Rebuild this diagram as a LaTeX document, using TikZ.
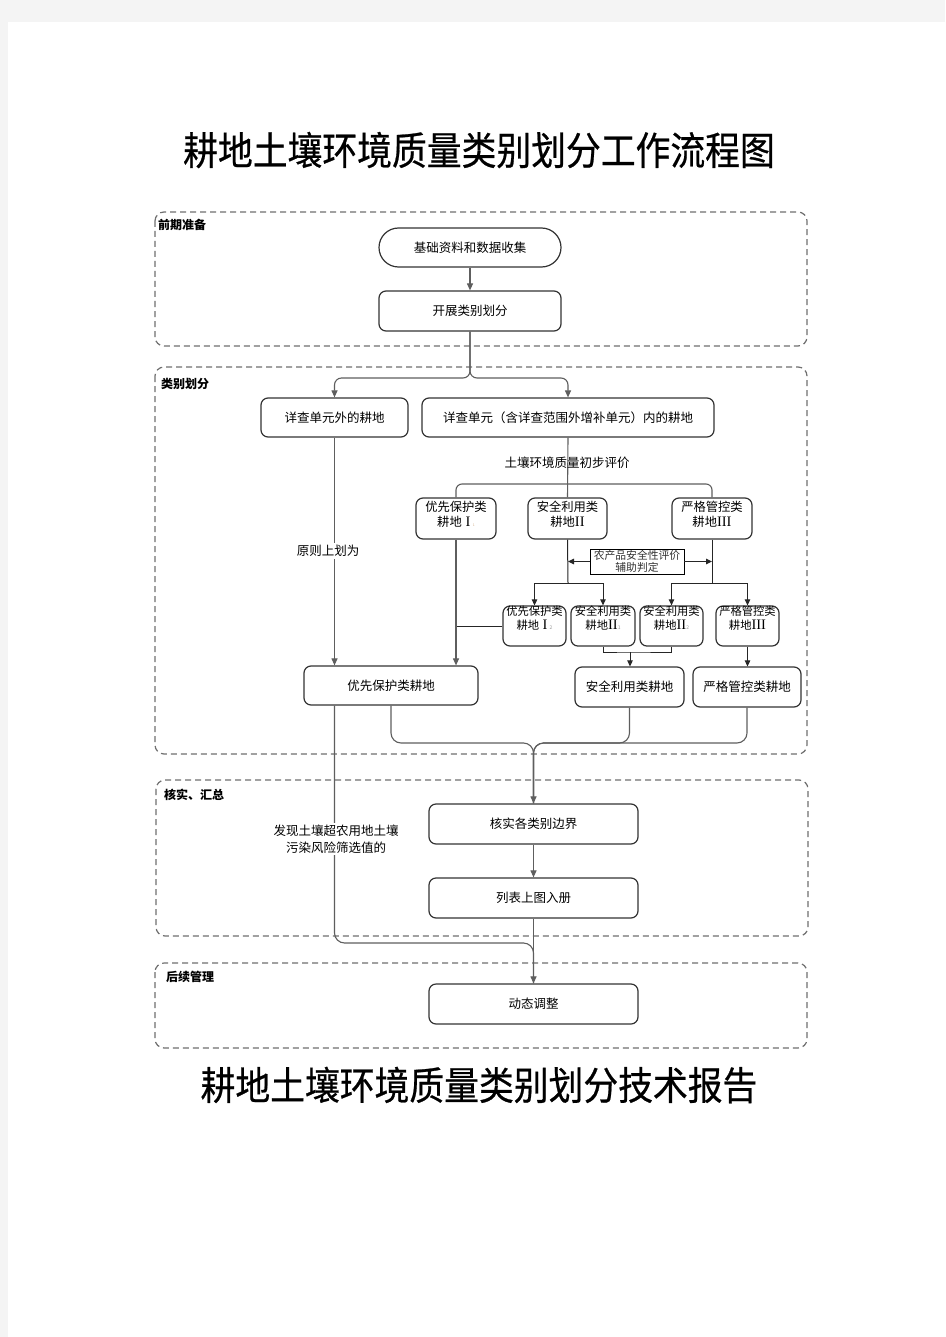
\documentclass[tikz,border=0pt]{standalone}
\usepackage{fontspec}
\newfontfamily\cjk{Noto Sans CJK SC}
\newfontfamily\cjktitle[FakeBold=0.6]{Noto Sans CJK SC}
\newfontfamily\romfont{Liberation Serif}
\usetikzlibrary{arrows.meta}
\definecolor{pagegray}{HTML}{F4F4F4}
\definecolor{linegray}{HTML}{5E5E5E}
\definecolor{boxline}{HTML}{333333}
\definecolor{dashgray}{HTML}{707070}
\definecolor{notegray}{HTML}{9A9A9A}
\definecolor{notetan}{HTML}{D4B08C}
\newcommand\padd[1]{\rule[-#1pt]{0pt}{#1pt}}
\newcommand\smallnote[2]{{\fontsize{#1}{#1}\selectfont\textcolor{notegray}{#2}}}
\newcommand\romsize{\fontsize{14.5}{14.5}\selectfont}
\newcommand\rI{\hspace{0.3em}{\romfont\romsize I}\hspace{0.2em}}
\newcommand\rII{{\romfont\romsize II}}
\newcommand\rIII{{\romfont\romsize III}}
\begin{document}
\begin{tikzpicture}[x=1pt,y=-1pt,
  every node/.style={font=\cjk},
  box/.style={draw=boxline, line width=1.2pt, rounded corners=7pt, inner sep=0pt, align=center,
    font=\cjk\fontsize{12.5}{16}\selectfont},
  sbox/.style={box, font=\cjk\fontsize{12.3}{15.5}\selectfont},
  tbox/.style={box, font=\cjk\fontsize{11.3}{13.5}\selectfont},
  notebox/.style={draw=black, line width=0.9pt, inner sep=0pt, align=center, text=black!80,
    font=\cjk\fontsize{10.8}{12}\selectfont},
  frame/.style={draw=dashgray, line width=1.2pt, dash pattern=on 6pt off 4pt, rounded corners=9pt},
  phase/.style={anchor=west, inner sep=0pt, font=\cjk\bfseries\fontsize{12}{12}\selectfont},
  lbl/.style={inner sep=2pt, align=center, font=\cjk\fontsize{12.5}{17}\selectfont},
  title/.style={inner sep=0pt, font=\cjktitle\fontsize{34.8}{40}\selectfont},
  conn/.style={draw=linegray, line width=1.1pt},
  arr/.style={conn, -{Triangle[length=7pt,width=6pt]}},
  dark/.style={draw=black!85, line width=1pt},
  darr/.style={dark, -{Triangle[length=6pt,width=5.5pt]}}
]
\fill[pagegray] (0,0) rectangle (945,1337);
\fill[white] (8,22) rectangle (945,1337);
\useasboundingbox (0,0) rectangle (945,1337);

% titles
\node[title] (t1) at (479,150) {\scalebox{1}[1.12]{耕地土壤环境质量类别划分工作流程图}};
\node[title] (t2) at (479,1085) {\scalebox{1}[1.12]{耕地土壤环境质量类别划分技术报告}};

% phase frames
\draw[frame] (155,212) rectangle (807,346);
\draw[frame] (155,367) rectangle (807,754);
\draw[frame] (156,780) rectangle (808,936);
\draw[frame] (155,963) rectangle (807,1048);
\node[phase] (p1) at (158,225) {前期准备};
\node[phase] (p2) at (161,384) {类别划分};
\node[phase] (p3) at (164,795) {核实、汇总};
\node[phase] (p4) at (166,977) {后续管理};

% nodes
\node[box, minimum width=182pt, minimum height=39pt, rounded corners=19.5pt] (n1) at (470,247.5) {基础资料和数据收集};
\node[box, minimum width=182pt, minimum height=40pt] (n2) at (470,311) {开展类别划分};
\node[box, minimum width=147pt, minimum height=39pt] (n3) at (334.5,417.5) {详查单元外的耕地};
\node[box, minimum width=292pt, minimum height=39pt] (n4) at (568,417.5) {详查单元（含详查范围外增补单元）内的耕地};
\node[sbox, minimum width=80pt, minimum height=41pt] (n5) at (456,518.5) {优先保护类\\耕地\rI{\fontsize{3.5}{3.5}\selectfont\textcolor{notetan}{1}}\padd{9}};
\node[sbox, minimum width=79pt, minimum height=41pt] (n6) at (567.5,518.5) {安全利用类\\耕地\rII\padd{9}};
\node[sbox, minimum width=80pt, minimum height=41pt] (n7) at (712,518.5) {严格管控类\\耕地\rIII\padd{9}};
\node[notebox, minimum width=94pt, minimum height=25pt] (n8) at (637,561.5) {农产品安全性评价\\辅助判定};
\node[tbox, minimum width=63pt, minimum height=40pt] (n9) at (534.5,626) {优先保护类\\耕地\rI\smallnote{5}{2}\padd{17}};
\node[tbox, minimum width=64pt, minimum height=40pt] (n10) at (603,626) {安全利用类\\耕地\rII\smallnote{5}{1}\padd{17}};
\node[tbox, minimum width=63pt, minimum height=40pt] (n11) at (671.5,626) {安全利用类\\耕地\rII\smallnote{5}{2}\padd{17}};
\node[tbox, minimum width=63pt, minimum height=40pt] (n12) at (747.5,626) {严格管控类\\耕地\rIII\padd{17}};
\node[box, minimum width=174pt, minimum height=39pt] (n13) at (391,685.5) {优先保护类耕地};
\node[box, minimum width=109pt, minimum height=40pt] (n14) at (629.5,687) {安全利用类耕地};
\node[box, minimum width=108pt, minimum height=40pt] (n15) at (747,687) {严格管控类耕地};
\node[box, minimum width=209pt, minimum height=40pt] (n16) at (533.5,824) {核实各类别边界};
\node[box, minimum width=209pt, minimum height=40pt] (n17) at (533.5,898) {列表上图入册};
\node[box, minimum width=209pt, minimum height=40pt] (n18) at (533.5,1004) {动态调整};

% coordinates
\coordinate (s1) at (568,583);
\coordinate (s2) at (712,583);
\coordinate (s3) at (630,652);
\coordinate (m) at (533.5,743);
\coordinate (b) at (334.5,943);

% connectors - upper part
\draw[arr] (n1.south) -- (n2.north);
\draw[arr, rounded corners=7pt] (n2.south) -- (470,378) -| (n3.north);
\draw[arr, rounded corners=7pt] (n2.south) -- (470,378) -| (n4.north);
\draw[conn] (n4.south) -- (n6.north);
\draw[conn, rounded corners=6pt] (n5.north) |- (600,484) -| (n7.north);
\node[lbl] (l0) at (567,463) {土壤环境质量初步评价};

% auxiliary judgement
\draw[dark] (n6.south) -- (s1);
\draw[dark] (n7.south) -- (s2);
\draw[darr] (n8.west) -- (n8.west -| s1);
\draw[darr] (n8.east) -- (n8.east -| s2);
\draw[darr] (s1) -| (n9.north);
\draw[darr] (s1) -| (n10.north);
\draw[darr] (s2) -| (n11.north);
\draw[darr] (s2) -| (n12.north);
\draw[dark] (n9.west) -- (n9.west -| n5.south);
\draw[dark] (n10.south) |- (s3) -| (n11.south);
\draw[darr] (s3) -- (s3 |- n14.north);
\draw[darr] (n12.south) -- (n12.south |- n15.north);

% into final classes
\draw[arr] (n5.south) -- (n5.south |- n13.north);
\draw[arr] (n3.south) -- (n3.south |- n13.north);
\node[lbl, fill=white] (l1) at (328,551) {原则上划为};

% merge to verification
\draw[conn, rounded corners=10pt] (n13.south) |- (m) -- (n16.north);
\draw[conn, rounded corners=10pt] (n14.south) |- (m) -- (n16.north);
\draw[arr, rounded corners=10pt] (n15.south) |- (m) -- (n16.north);
\draw[arr] (n16.south) -- (n17.north);
\draw[arr] (n17.south) -- (n18.north);
\draw[conn, rounded corners=10pt] (n3.south |- n13.south) -- (b) -| (n18.north);
\node[lbl, fill=white] (l2) at (336,839) {发现土壤超农用地土壤\\污染风险筛选值的};
\end{tikzpicture}
\end{document}
